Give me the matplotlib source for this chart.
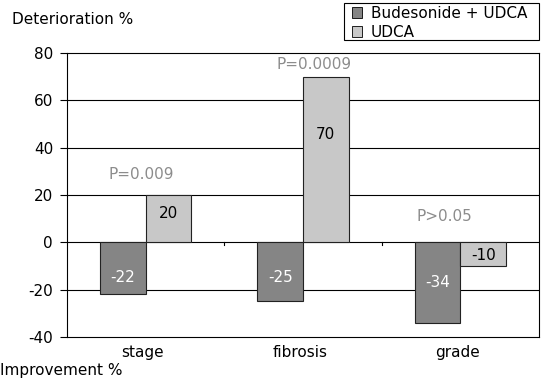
import numpy as np
import matplotlib.pyplot as plt
from matplotlib.patches import Patch, Rectangle

plt.rcParams['font.family'] = ['DejaVu Sans']
plt.rcParams['axes.unicode_minus'] = False

Categories = ['stage', 'fibrosis', 'grade']
Budesonide = [-22, -25, -34]
UDCA = [20, 70, -10]
PLabels = ['P=0.009', 'P=0.0009', 'P>0.05']
PLabelY = [28.8, 75.0, 10.8]
YTicks = [-40, -20, 0, 20, 40, 60, 80]

DarkCol = '#858585'
LightCol = '#c8c8c8'
PCol = '#8c8c8c'
FS = 11

fig = plt.figure(figsize=(5.45, 3.81), dpi=100)
ax = fig.add_axes([67/545, 1-337/381, 472/545, 284/381])

x = np.arange(len(Categories))
w = 0.29

ax.bar(x - w/2, Budesonide, w, color=DarkCol, edgecolor='#222222', lw=0.8, zorder=3)
ax.bar(x + w/2, UDCA, w, color=LightCol, edgecolor='#222222', lw=0.8, zorder=3)

# value labels (position inside the bar, as in the original)
BudY = [-14.9, -14.9, -16.8]
UdY = [12.3, 45.7, -5.4]
PX = [-0.03, 0.07, -0.1]
for k in range(len(x)):
    ax.text(x[k] - w/2, BudY[k], str(Budesonide[k]),
            ha='center', va='center', color='white', fontsize=FS, zorder=4)
    ax.text(x[k] + w/2, UdY[k], str(UDCA[k]),
            ha='center', va='center', color='black', fontsize=FS, zorder=4)
    ax.text(x[k] + PX[k], PLabelY[k], PLabels[k],
            ha='center', va='center', color=PCol, fontsize=FS, zorder=4)

ax.set_xlim(-0.5, 2.5)
ax.set_ylim(-40, 80)
ax.set_yticks(YTicks)
ax.tick_params(axis='y', labelsize=FS, direction='out', length=5, width=0.8, pad=5)
ax.set_xticks([])
for yy in YTicks[1:-1]:
    ax.axhline(yy, color='black', lw=0.8, zorder=1)
# small ticks on the zero line between categories
for xx in [0.5, 1.5]:
    ax.plot([xx, xx], [0, -1.3], color='black', lw=0.8, zorder=2)
for k, c in enumerate(Categories):
    ax.text(x[k] - 0.02, -46.5, c, ha='center', va='center', fontsize=FS)
for s in ax.spines.values():
    s.set_linewidth(0.8)

fig.text(12/545, 1-19/381, 'Deterioration %', ha='left', va='center', fontsize=FS)
fig.text(0/545, 1-371/381, 'Improvement %', ha='left', va='center', fontsize=FS)

# legend with a hand-placed frame
fig.patches.append(Rectangle((344/545, 1-40/381), 195/545, 37/381,
                             transform=fig.transFigure, fill=False,
                             edgecolor='black', lw=0.8))
handles = [Patch(facecolor=DarkCol, edgecolor='black', lw=0.6),
           Patch(facecolor=LightCol, edgecolor='black', lw=0.6)]
leg = fig.legend(handles, ['Budesonide + UDCA', 'UDCA'],
                 loc='upper left', bbox_to_anchor=(350/545, 1-4/381),
                 fontsize=FS, frameon=False,
                 handlelength=0.7, handleheight=0.7, handletextpad=0.55,
                 borderpad=0.1, labelspacing=0.3, borderaxespad=0)

fig.savefig('out.png', dpi=100)
